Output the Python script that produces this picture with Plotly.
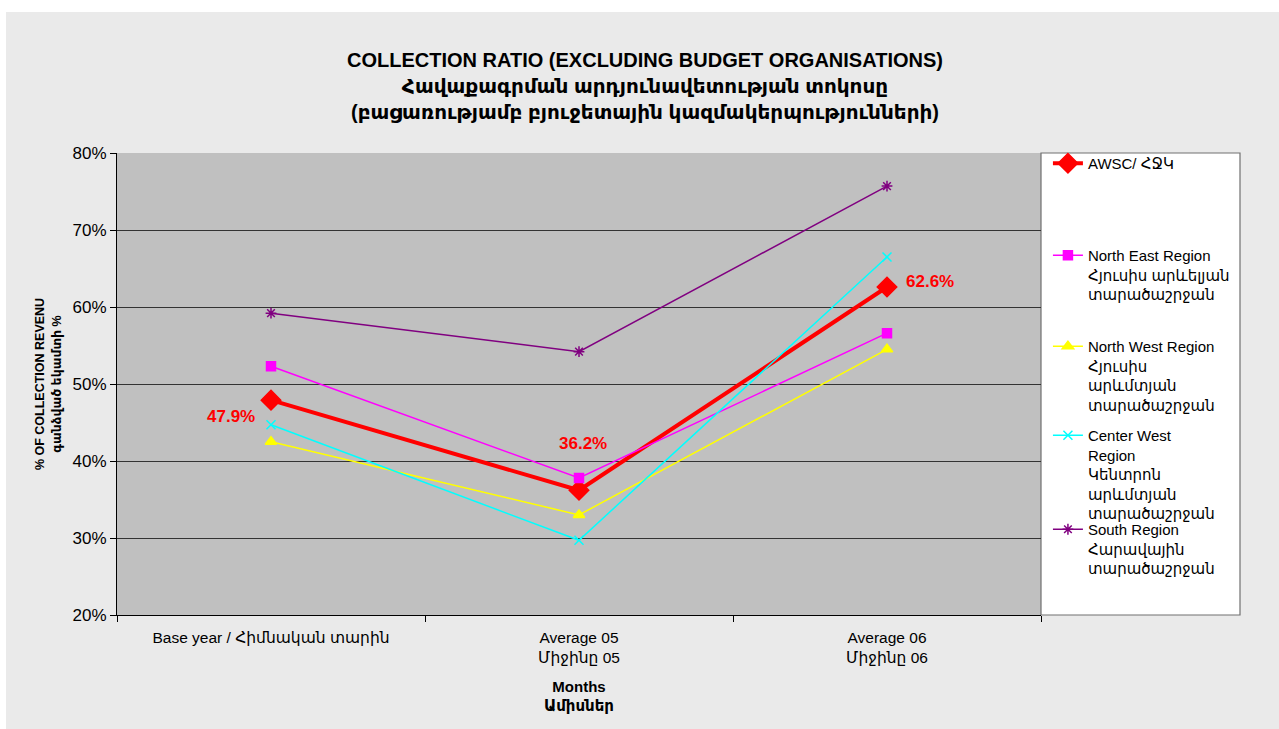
import plotly.graph_objects as go

# categories and series (collection ratio, %)
categories = ["Base year / Հիմնական տարին", "Average 05<br>Միջինը 05", "Average 06<br>Միջինը 06"]
awsc = [47.9, 36.2, 62.6]
north_east = [52.3, 37.8, 56.6]
north_west = [42.5, 33.0, 54.5]
center_west = [44.7, 29.7, 66.5]
south = [59.2, 54.2, 75.7]

FONT = "Arial, Liberation Sans, DejaVu Sans, sans-serif"

series = [
    ("AWSC/ ՀՋԿ", awsc, "#ff0000", 4, "diamond", 15),
    ("North East Region<br>Հյուսիս արևելյան<br>տարածաշրջան", north_east, "#ff00ff", 1.5, "square", 9),
    ("North West Region<br>Հյուսիս<br>արևմտյան<br>տարածաշրջան", north_west, "#ffff00", 1.5, "triangle-up", 10),
    ("Center West<br>Region<br>Կենտրոն<br>արևմտյան<br>տարածաշրջան", center_west, "#00ffff", 1.5, "x-thin", 9),
    ("South Region<br>Հարավային<br>տարածաշրջան", south, "#800080", 1.5, "asterisk", 9),
]

fig = go.Figure()
legend_ids = ["legend", "legend2", "legend3", "legend4", "legend5"]
for (name, vals, color, width, symbol, size), lid in zip(series, legend_ids):
    fig.add_trace(go.Scatter(
        x=categories, y=vals, name=name, mode="lines+markers",
        line=dict(color=color, width=width),
        marker=dict(symbol=symbol, size=size, color=color,
                    line=dict(color=color, width=1.5)),
        legend=lid, showlegend=True,
    ))

# data labels for AWSC
shifts = [(-40, -16), (4, 47), (43, 5)]
for cat, v, (dx, dy) in zip(categories, awsc, shifts):
    fig.add_annotation(x=cat, y=v, text=f"<b>{v:.1f}%</b>", showarrow=False,
                       xshift=dx, yshift=dy,
                       font=dict(family=FONT, size=17, color="#ff0000"))

# white strips around the textured page, and the legend box
fig.add_shape(type="rect", xref="paper", yref="paper",
              x0=-117 / 924, x1=(1279 - 117) / 924,
              y0=(615 - 12) / 462, y1=615 / 462,
              fillcolor="white", line=dict(width=0), layer="below")
fig.add_shape(type="rect", xref="paper", yref="paper",
              x0=-117 / 924, x1=(6 - 117) / 924,
              y0=(615 - 729) / 462, y1=615 / 462,
              fillcolor="white", line=dict(width=0), layer="below")
fig.add_shape(type="rect", xref="paper", yref="paper",
              x0=1, x1=(1240 - 117) / 924, y0=0, y1=1,
              fillcolor="white", line=dict(color="#707070", width=1.2), layer="below")

legend_tops = [147, 239, 330, 419, 513]
layout_legends = {}
for lid, top in zip(legend_ids, legend_tops):
    layout_legends[lid] = dict(
        x=1.0075, xanchor="left", y=(615 - top) / 462, yanchor="top",
        bgcolor="rgba(0,0,0,0)", valign="top",
        font=dict(family=FONT, size=15, color="black"),
        itemwidth=30, tracegroupgap=0,
    )

fig.update_layout(
    width=1279, height=729,
    margin=dict(l=117, r=238, t=153, b=114),
    showlegend=True,
    paper_bgcolor="#eaeaea", plot_bgcolor="#c0c0c0",
    font=dict(family=FONT, size=14, color="black"),
    title=dict(
        text="<b>COLLECTION RATIO (EXCLUDING BUDGET ORGANISATIONS)<br>"
             "Հավաքագրման արդյունավետության տոկոսը<br>"
             "(բացառությամբ բյուջետային կազմակերպությունների)</b>",
        x=645 / 1279, xanchor="center", y=1 - 67 / 729, yanchor="top",
        font=dict(family=FONT, size=20, color="black"),
    ),
    xaxis=dict(
        type="category", range=[-0.5, 2.5], tickson="boundaries",
        ticks="outside", ticklen=6, tickcolor="black",
        showline=True, linecolor="black", linewidth=1.2,
        showgrid=False, ticklabelstandoff=8,
        tickfont=dict(family=FONT, size=15.5),
        title=dict(text="<b>Months<br>Ամիսներ</b>", standoff=16,
                   font=dict(family=FONT, size=15)),
    ),
    yaxis=dict(
        range=[20, 80], dtick=10, ticksuffix="%",
        ticks="outside", ticklen=6, tickcolor="black",
        showline=True, linecolor="black", linewidth=1.2,
        showgrid=True, gridcolor="#333333", gridwidth=1.2,
        zeroline=False,
        tickfont=dict(family=FONT, size=17),
        title=dict(text="<b>% OF COLLECTION REVENU<br>գանձված եկամտի %</b>", standoff=8,
                   font=dict(family=FONT, size=12.5)),
    ),
    **layout_legends,
)

fig.write_html("out.html", config={"displayModeBar": False},
               post_script="document.body.style.margin='0';")
